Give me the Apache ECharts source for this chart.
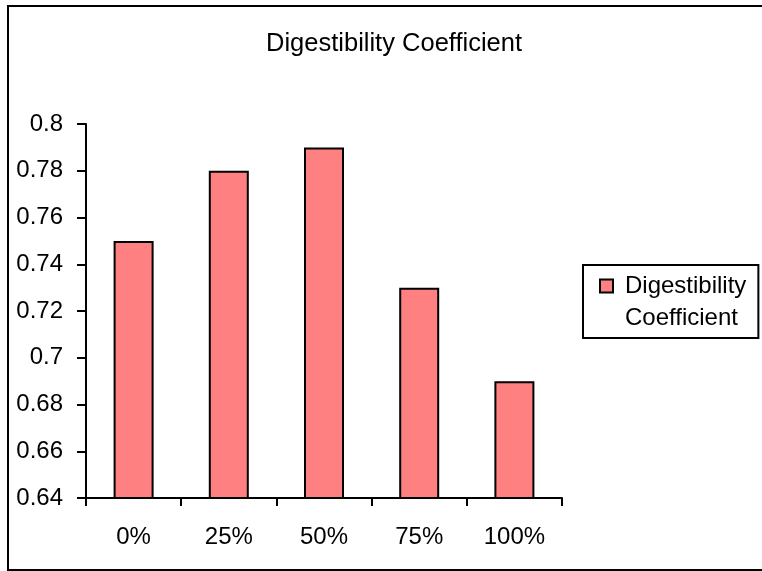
<!DOCTYPE html>
<html>
<head>
<meta charset="utf-8">
<script src="https://cdn.jsdelivr.net/npm/echarts@6/dist/echarts.min.js"></script>
<style>
  html, body { margin: 0; padding: 0; background: #fff; }
  #chart { width: 762px; height: 571px; }
</style>
</head>
<body>
<div id="chart"></div>
<script>
// Data
const categories = ['0%', '25%', '50%', '75%', '100%'];
const digestibility = [0.75, 0.78, 0.79, 0.73, 0.69];
const seriesName = 'Digestibility Coefficient';
const yMin = 0.64, yMax = 0.8, yStep = 0.02;

const FONT = 'Arial, "Liberation Sans", sans-serif';
const chart = echarts.init(document.getElementById('chart'), null, { renderer: 'canvas' });

chart.setOption({
  backgroundColor: '#fff',
  animation: false,
  title: {
    text: 'Digestibility Coefficient',
    left: 266,
    top: 31,
    padding: 0,
    textStyle: { fontFamily: FONT, fontSize: 25.5, fontWeight: 'normal', color: '#000' }
  },
  graphic: [{
    type: 'rect',
    shape: { x: 8, y: 6, width: 760, height: 564 },
    style: { fill: 'none', stroke: '#000', lineWidth: 2 },
    silent: true
  }],
  legend: {
    left: 583,
    top: 265,
    orient: 'vertical',
    padding: [5, 12, 4, 16],
    backgroundColor: '#fff',
    borderColor: '#000',
    borderWidth: 2,
    itemWidth: 20,
    itemHeight: 45,
    // square marker sitting beside the first text line
    icon: 'path://M0,0H13V13H0Z M20,45',
    formatter: () => 'Digestibility\nCoefficient',
    textStyle: { fontFamily: FONT, fontSize: 24, color: '#000', lineHeight: 32 },
    data: [seriesName]
  },
  grid: { left: 86, right: 200, top: 124, bottom: 73, containLabel: false },
  xAxis: {
    type: 'category',
    data: categories,
    boundaryGap: true,
    axisLine: { lineStyle: { color: '#000', width: 2 } },
    axisTick: { show: true, length: 8, alignWithLabel: false, lineStyle: { color: '#000', width: 2 } },
    axisLabel: { margin: 27, fontFamily: FONT, fontSize: 24, color: '#000' },
    splitLine: { show: false }
  },
  yAxis: {
    type: 'value',
    min: yMin,
    max: yMax,
    interval: yStep,
    axisLine: { show: true, lineStyle: { color: '#000', width: 2 } },
    axisTick: { show: true, length: 9, lineStyle: { color: '#000', width: 2 } },
    axisLabel: {
      margin: 23,
      fontFamily: FONT,
      fontSize: 24,
      color: '#000',
      formatter: v => String(+v.toFixed(2))
    },
    splitLine: { show: false }
  },
  series: [{
    name: seriesName,
    type: 'bar',
    data: digestibility,
    barWidth: 40,
    itemStyle: { color: '#FF8080', borderColor: '#000', borderWidth: 2 }
  }]
});
</script>
</body>
</html>
